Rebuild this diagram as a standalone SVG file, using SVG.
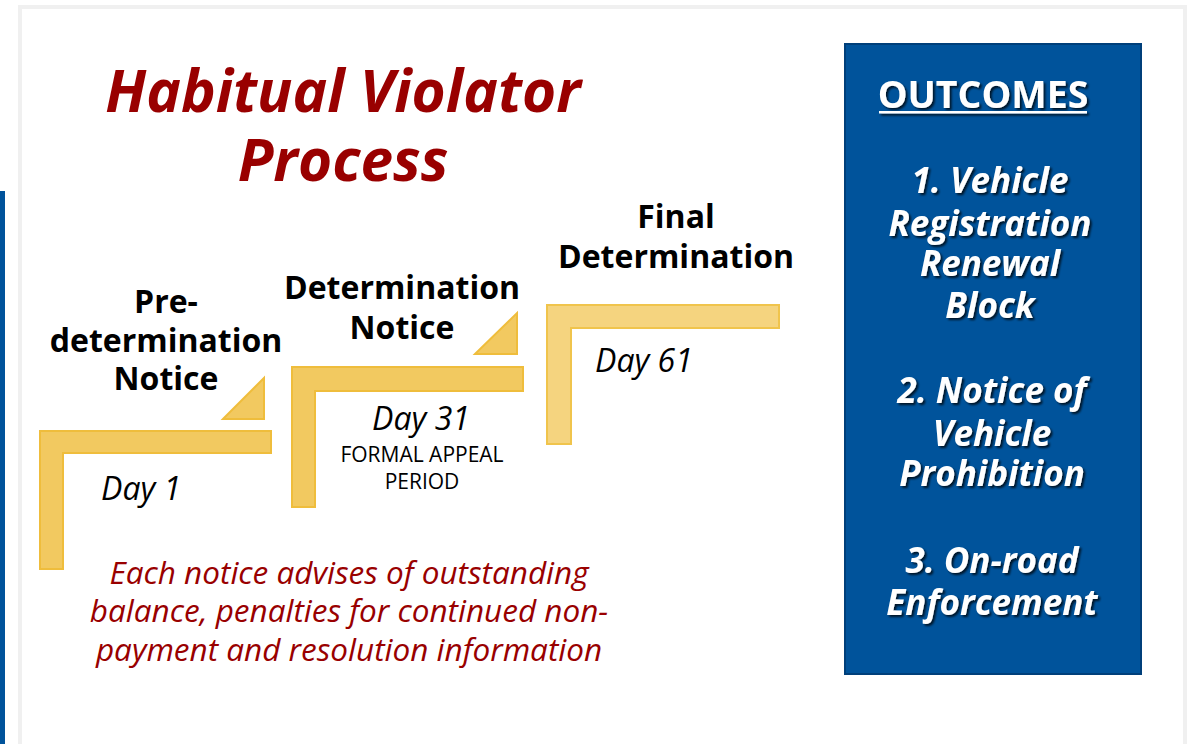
<svg xmlns="http://www.w3.org/2000/svg" width="1196" height="744" viewBox="0 0 1196 744">
<defs>
<style>
.title{font-family:"Open Sans",sans-serif;font-weight:bold;font-style:italic;font-size:58.5px;fill:#990000;text-anchor:middle}
.step{fill:#f2c960;stroke:#efbd3c;stroke-width:2}
.step3{fill:#f5d47f;stroke:#f0c44c;stroke-width:2}
.lbl{font-family:"Open Sans",sans-serif;font-weight:bold;font-size:32px;fill:#000;text-anchor:middle}
.day{font-family:"Open Sans",sans-serif;font-style:italic;font-size:32px;fill:#000}
.sub{font-family:"Open Sans",sans-serif;font-size:21px;fill:#000;text-anchor:middle}
.note{font-family:"Open Sans",sans-serif;font-style:italic;font-size:31.5px;fill:#990000;text-anchor:middle}
.out{font-family:"Open Sans",sans-serif;font-weight:bold;font-style:italic;font-size:35px;fill:#fff;text-anchor:middle}
.outh{font-family:"Open Sans",sans-serif;font-weight:bold;font-size:37.5px;fill:#fff;text-anchor:middle}
</style>
<filter id="sh" x="-10%" y="-20%" width="130%" height="150%">
<feDropShadow dx="2" dy="2" stdDeviation="1.2" flood-color="#000" flood-opacity="0.75"/>
</filter>
</defs>
<rect width="1196" height="744" fill="#fff"/>
<rect x="20" y="7" width="1165" height="760" fill="#fff" stroke="#f0f0f0" stroke-width="4"/>
<rect x="0" y="191" width="5" height="553" fill="#00539b"/>

<g id="title">
<text class="title" x="343" y="112">Habitual Violator</text>
<text class="title" x="343" y="181">Process</text>
</g>

<g id="step1">
<path class="step" d="M40 431 H271 V453 H63 V569 H40 Z"/>
<path class="step" d="M223 419 L264 378 V419 Z"/>
<text class="lbl" x="166" y="313">Pre-</text>
<text class="lbl" x="166" y="352">determination</text>
<text class="lbl" x="166" y="390">Notice</text>
<text class="day" x="101" y="500">Day 1</text>
</g>

<g id="step2">
<path class="step" d="M292 367 H523 V391 H315 V507 H292 Z"/>
<path class="step" d="M475 354 L517 313 V354 Z"/>
<text class="lbl" x="402" y="299">Determination</text>
<text class="lbl" x="402" y="339">Notice</text>
<text class="day" x="421" y="430" text-anchor="middle">Day 31</text>
<text class="sub" x="422" y="462">FORMAL APPEAL</text>
<text class="sub" x="422" y="489">PERIOD</text>
</g>

<g id="step3">
<path class="step3" d="M547 305 H779 V328 H571 V444 H547 Z"/>
<text class="lbl" x="676" y="228">Final</text>
<text class="lbl" x="676" y="268">Determination</text>
<text class="day" x="595" y="372">Day 61</text>
</g>

<g id="note">
<text class="note" x="349" y="584">Each notice advises of outstanding</text>
<text class="note" x="349" y="622">balance, penalties for continued non-</text>
<text class="note" x="349" y="661">payment and resolution information</text>
</g>

<g id="outcomes">
<rect x="845" y="44" width="296" height="630" fill="#00539b" stroke="#003f7a" stroke-width="2"/>
<g filter="url(#sh)">
<text class="outh" x="983" y="108">OUTCOMES</text>
<rect x="879" y="111" width="208" height="2.5" fill="#fff"/>
<text class="out" x="990" y="193">1. Vehicle</text>
<text class="out" x="990" y="236">Registration</text>
<text class="out" x="990" y="276">Renewal</text>
<text class="out" x="990" y="318">Block</text>
<text class="out" x="992" y="403">2. Notice of</text>
<text class="out" x="992" y="446">Vehicle</text>
<text class="out" x="992" y="486">Prohibition</text>
<text class="out" x="992" y="573">3. On-road</text>
<text class="out" x="992" y="615">Enforcement</text>
</g>
</g>
</svg>
